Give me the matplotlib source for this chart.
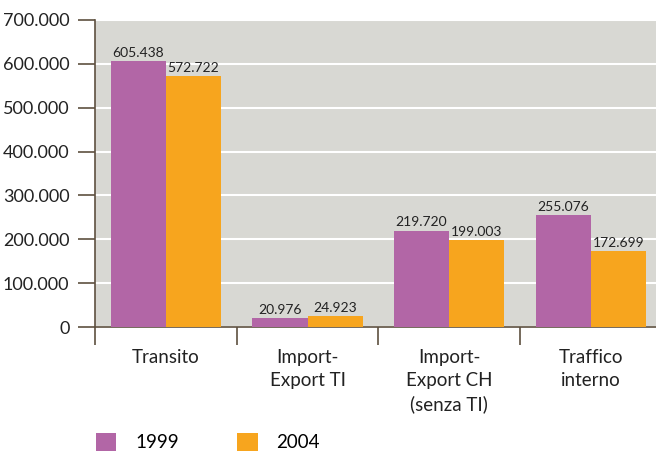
import numpy as np
import matplotlib.pyplot as plt
from matplotlib.ticker import FuncFormatter

categorie = ['Transito', 'Import-\nExport TI', 'Import-\nExport CH\n(senza TI)', 'Traffico\ninterno']
anni = ['1999', '2004']
valori_1999 = [605438, 20976, 219720, 255076]
valori_2004 = [572722, 24923, 199003, 172699]

colori = ['#b266a6', '#f7a51e']
asse_col = '#5e5040'

plt.rcParams['font.family'] = ['Lato', 'DejaVu Sans']

fig = plt.figure(figsize=(6.56, 4.53), dpi=100)
ax = fig.add_axes([0.145, 0.278, 0.855, 0.678])
ax.set_facecolor('#d8d8d3')

x = np.arange(len(categorie))
w = 0.39
b1 = ax.bar(x - w / 2, valori_1999, w, color=colori[0], label=anni[0], zorder=3)
b2 = ax.bar(x + w / 2, valori_2004, w, color=colori[1], label=anni[1], zorder=3)

def fmt(v):
    return f"{v:,.0f}".replace(',', '.')

for bars in (b1, b2):
    for r in bars:
        ax.text(r.get_x() + r.get_width() / 2, r.get_height() + 5000, fmt(r.get_height()),
                ha='center', va='bottom', fontsize=10, color='#222222', zorder=4)

ax.set_ylim(0, 700000)
ax.set_yticks(np.arange(0, 700001, 100000))
ax.yaxis.set_major_formatter(FuncFormatter(lambda v, p: fmt(v)))
ax.grid(axis='y', color='white', linewidth=1.5, zorder=1)
ax.set_axisbelow(True)

ax.set_xlim(-0.5, 3.46)
ax.set_xticks(x)
ax.set_xticklabels(categorie, fontsize=13.5, color='#222222', linespacing=1.4)
ax.set_xticks(np.arange(-0.5, 3.0, 1.0), minor=True)
ax.tick_params(axis='x', which='major', length=0, pad=16)
ax.tick_params(axis='x', which='minor', length=13, width=1.2, color=asse_col)
ax.tick_params(axis='y', length=12, width=1.2, color=asse_col, labelsize=13,
               labelcolor='#222222', pad=6.5)

for s in ['top', 'right']:
    ax.spines[s].set_visible(False)
for s in ['left', 'bottom']:
    ax.spines[s].set_color(asse_col)
    ax.spines[s].set_linewidth(1.2)

fig.legend(handles=[b1, b2], labels=anni, loc='upper left', bbox_to_anchor=(0.146, 0.044),
           ncol=2, frameon=False, fontsize=13.5, handlelength=1.1, handleheight=1.1,
           columnspacing=3.1, handletextpad=1.0, borderpad=0, borderaxespad=0)

fig.savefig('out.png', dpi=100)
